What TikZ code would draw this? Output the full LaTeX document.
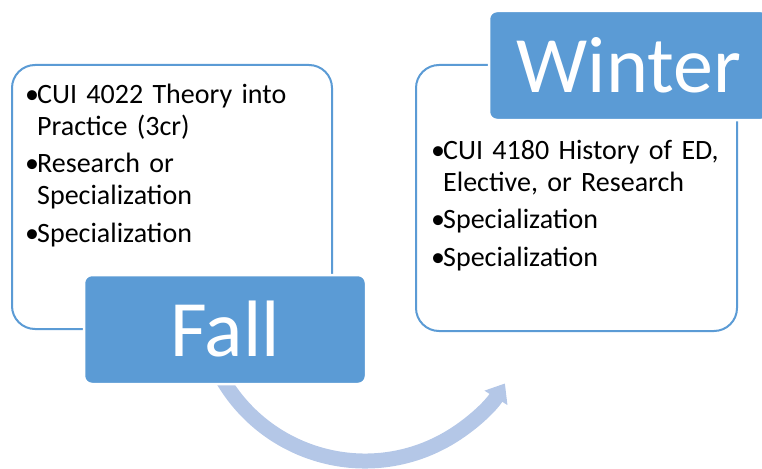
\documentclass[tikz,border=0pt]{standalone}
\usepackage{fontspec}
\setmainfont{Carlito}
\usetikzlibrary{arrows.meta}
\definecolor{boxblue}{HTML}{5B9BD5}
\definecolor{arcblue}{HTML}{B4C7E7}
\newcommand{\bitem}[1]{\par\noindent\hangindent=12pt\hangafter=1\makebox[12pt][l]{•}#1}

\begin{document}
\begin{tikzpicture}[x=1pt,y=-1pt,
  panel/.style={draw=boxblue,line width=2pt,rounded corners=23pt,fill=white},
  season/.style={draw=white,line width=2.5pt,fill=boxblue,rounded corners=8pt,
    text=white,font=\fontsize{80}{90}\selectfont},
  listtext/.style={text width=310pt,inner sep=0pt,
    font=\fontsize{28}{32}\selectfont\raggedright\setlength{\parskip}{5.5pt}}]
\useasboundingbox (0,0) rectangle (762,468);
% outlined panels
\node[panel,minimum width=320pt,minimum height=264pt](fallpanel)at(172,197){};
\node[panel,minimum width=321pt,minimum height=266pt](winterpanel)at(576.5,198){};
\node[listtext,anchor=north west](falltext)at(25,65.5){%
  \bitem{CUI 4022 Theory into\newline Practice (3cr)}
  \bitem{Research or\newline Specialization}
  \bitem{Specialization}};
\node[listtext,anchor=north west](wintertext)at(431,121.5){%
  \bitem{CUI 4180 History of ED,\newline Elective, or Research}
  \bitem{Specialization}
  \bitem{Specialization}};
% circular arrow
\coordinate (hub) at (365,296);
\draw[arcblue,line width=15pt,-{Triangle[length=17pt,width=26pt]}]
  (hub) ++(150:165) arc[start angle=150,end angle=32,radius=165];
% season labels
\node[season,minimum width=282pt,minimum height=109pt](fall)at(225,329.5){Fall};
\node[season,minimum width=280pt,minimum height=109pt](winter)at(629,65.5){Winter};
\end{tikzpicture}
\end{document}
